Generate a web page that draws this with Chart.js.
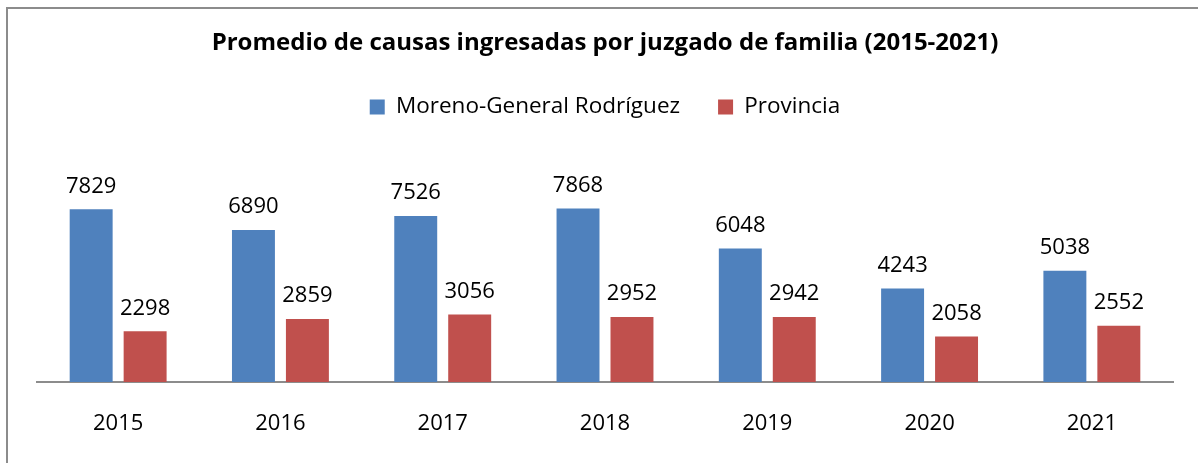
<!DOCTYPE html>
<html>
<head>
<meta charset="utf-8">
<script src="https://cdn.jsdelivr.net/npm/chart.js@4/dist/chart.umd.min.js"></script>
<style>
    html, body { margin: 0; padding: 0; background: #fff; overflow: hidden; }
    #frame { position: absolute; left: 6px; top: 7px; width: 1300px; height: 600px; border: 2px solid #8c8c8c; }
    #wrap { position: absolute; left: 0; top: 0; width: 1198px; height: 463px; }
</style>
</head>
<body>
<div id="frame"></div>
<div id="wrap"><canvas id="chart"></canvas></div>
<script>
const years = ['2015', '2016', '2017', '2018', '2019', '2020', '2021'];
const moreno = [7829, 6890, 7526, 7868, 6048, 4243, 5038];
const provincia = [2298, 2859, 3056, 2952, 2942, 2058, 2552];

// valores encima de cada barra
const barLabels = {
    id: 'barLabels',
    afterDatasetsDraw(chart) {
        const ctx = chart.ctx;
        ctx.save();
        ctx.font = '22px "Open Sans"';
        ctx.fillStyle = '#000';
        ctx.textAlign = 'center';
        ctx.textBaseline = 'bottom';
        chart.data.datasets.forEach((ds, i) => {
            chart.getDatasetMeta(i).data.forEach((bar, j) => {
                ctx.fillText(ds.data[j], bar.x, bar.y - 12);
            });
        });
        ctx.restore();
    }
};

const data = {
    labels: years,
    datasets: [
        {
            label: 'Moreno-General Rodríguez',
            data: moreno,
            backgroundColor: '#4F81BD',
        },
        {
            label: 'Provincia',
            data: provincia,
            backgroundColor: '#C0504D',
        }
    ]
};

const options = {
    responsive: true,
    maintainAspectRatio: false,
    animation: false,
    layout: { padding: { left: 37, right: 25, top: 0, bottom: 0 } },
    datasets: { bar: { categoryPercentage: 0.665, barPercentage: 0.796 } },
    plugins: {
        title: {
            display: true,
            text: 'Promedio de causas ingresadas por juzgado de familia (2015-2021)',
            color: '#000',
            font: { family: 'Open Sans', size: 24, weight: 'bold' },
            padding: { top: 29, bottom: 0 }
        },
        legend: {
            labels: {
                color: '#000',
                font: { family: 'Open Sans', size: 22.5 },
                boxWidth: 15,
                boxHeight: 15,
                padding: 38
            }
        },
        tooltip: { enabled: false }
    },
    scales: {
        x: {
            grid: { display: false, drawTicks: false, tickLength: 0 },
            border: { display: true, color: '#8c8c8c', width: 2 },
            ticks: { color: '#000', font: { family: 'Open Sans', size: 22 }, padding: 29 },
            afterFit(scale) { scale.height = 81; }
        },
        y: {
            display: false,
            min: 0,
            max: 11500
        }
    }
};

const config = { type: 'bar', data: data, options: options, plugins: [barLabels] };
new Chart(document.getElementById('chart'), config);
</script>
</body>
</html>
